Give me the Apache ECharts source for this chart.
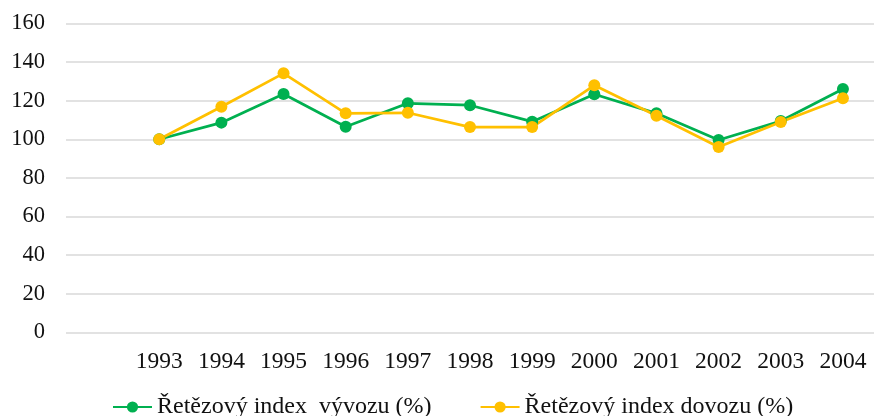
<!DOCTYPE html>
<html>
<head>
<meta charset="utf-8">
<script src="https://cdn.jsdelivr.net/npm/echarts@6/dist/echarts.min.js"></script>
<style>
  html, body { margin: 0; padding: 0; background: #fff; }
  #chart { width: 874px; height: 416px; }
</style>
</head>
<body>
<div id="chart"></div>
<script>
// roky; první prázdná kategorie drží mezeru vlevo jako v originále
const years = ['1993', '1994', '1995', '1996', '1997', '1998', '1999', '2000', '2001', '2002', '2003', '2004']
const exportIndex = [100, 108.6, 123.4, 106.5, 118.6, 117.6, 109.1, 123.3, 113.4, 99.6, 109.4, 126.0]
const importIndex = [100, 116.8, 134.1, 113.4, 113.7, 106.3, 106.3, 127.9, 112.2, 96.0, 108.9, 121.2]
const yTicks = { min: 0, max: 160, interval: 20 }

const font = "'Liberation Serif', 'Times New Roman', serif"
const green = '#00b050'
const yellow = '#ffc000'

const chart = echarts.init(document.getElementById('chart'))
chart.setOption({
  animation: false,
  textStyle: { fontFamily: font, color: '#000' },
  grid: { left: 66, right: -6, top: 23.3, bottom: 83.5 },
  legend: {
    left: 112,
    top: 395,
    padding: 0,
    itemWidth: 39,
    itemHeight: 14,
    itemGap: 48,
    textStyle: { fontFamily: font, fontSize: 24, color: '#111' },
    data: ['Řetězový index  vývozu (%)', 'Řetězový index dovozu (%)']
  },
  xAxis: {
    type: 'category',
    boundaryGap: true,
    data: [''].concat(years),
    axisLine: { show: false },
    axisTick: { show: false },
    axisLabel: { fontFamily: font, fontSize: 23.5, color: '#111', margin: 17, interval: 0 }
  },
  yAxis: {
    type: 'value',
    min: yTicks.min,
    max: yTicks.max,
    interval: yTicks.interval,
    axisLine: { show: false },
    axisTick: { show: false },
    axisLabel: { fontFamily: font, fontSize: 22.5, color: '#111', margin: 21 },
    splitLine: { lineStyle: { color: '#d9d9d9', width: 1.5 } }
  },
  series: [
    {
      name: 'Řetězový index  vývozu (%)',
      type: 'line',
      data: [null].concat(exportIndex),
      symbol: 'circle',
      symbolSize: 12,
      itemStyle: { color: green },
      lineStyle: { color: green, width: 2.75 }
    },
    {
      name: 'Řetězový index dovozu (%)',
      type: 'line',
      data: [null].concat(importIndex),
      symbol: 'circle',
      symbolSize: 12,
      itemStyle: { color: yellow },
      lineStyle: { color: yellow, width: 2.75 }
    }
  ]
})
</script>
</body>
</html>
